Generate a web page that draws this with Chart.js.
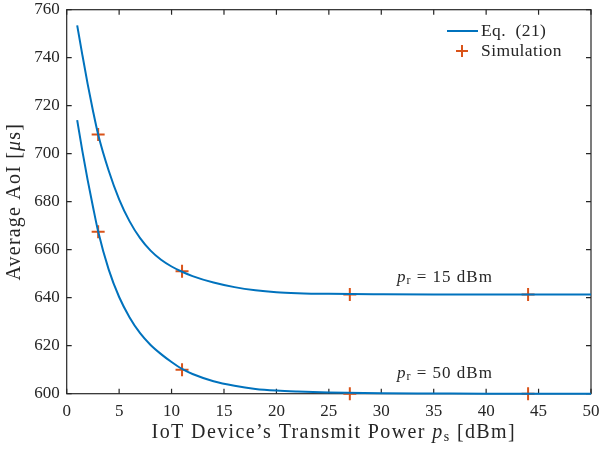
<!DOCTYPE html>
<html>
<head>
<meta charset="utf-8">
<script src="https://cdn.jsdelivr.net/npm/chart.js@4.4.1/dist/chart.umd.min.js"></script>
<style>
  html, body { margin: 0; padding: 0; background: #fff; }
  #wrap { width: 601px; height: 451px; }
</style>
</head>
<body>
<div id="wrap"><canvas id="myChart" width="601" height="451"></canvas></div>
<script>
// transmit power of the IoT device (dBm) where the analytic curve was read
const xEq = [1, 1.5, 2, 2.5, 3, 4, 5, 6, 7, 8, 9, 10, 11, 12, 14, 16, 18, 20, 22, 25, 30, 35, 40, 45, 50]
const eqPr15 = [753.5, 741, 729, 718, 708, 693, 681, 671.8, 664.8, 659.6, 655.8, 653, 650.8, 649, 646.3, 644.4, 643.1, 642.3, 641.9, 641.6, 641.4, 641.3, 641.3, 641.3, 641.3]
const eqPr50 = [714, 701, 689, 678, 667.6, 651.8, 640.3, 631.8, 625.2, 620.3, 616.5, 613.2, 610.3, 608.2, 605.2, 603.3, 602, 601.3, 600.9, 600.5, 600.2, 600.1, 600, 600, 600]

// simulation points
const xSim = [3, 11, 27, 44]
const simPr15 = [708, 651, 641.3, 641.3]
const simPr50 = [667.5, 610, 600, 600]

const xTicks = [0, 5, 10, 15, 20, 25, 30, 35, 40, 45, 50]
const yTicks = [600, 620, 640, 660, 680, 700, 720, 740, 760]

const BLUE = '#0072BD'
const ORANGE = '#D95319'
const INK = '#262626'
const FAMILY = '"Liberation Serif", "DejaVu Serif", serif'

const toPoints = (xs, ys) => xs.map((x, i) => ({ x: x, y: ys[i] }))

// draw a run of text pieces, each with its own font and baseline shift
function richText(ctx, parts, x, y, align, spacing) {
    ctx.letterSpacing = (spacing || 0) + 'px'
    let total = 0
    parts.forEach(p => { ctx.font = p.font; p.w = ctx.measureText(p.t).width; total += p.w })
    let cx = align === 'center' ? x - total / 2 : x
    ctx.textAlign = 'left'
    ctx.textBaseline = 'middle'
    parts.forEach(p => {
        ctx.font = p.font
        ctx.fillText(p.t, cx, y + (p.dy || 0))
        cx += p.w
    })
    ctx.letterSpacing = '0px'
}

const axesPlugin = {
    id: 'matlabAxes',
    beforeDatasetsDraw(chart) {
        const ctx = chart.ctx
        const a = chart.chartArea
        const xs = chart.scales.x
        const ys = chart.scales.y
        ctx.save()
        ctx.strokeStyle = INK
        ctx.lineWidth = 1.2
        ctx.strokeRect(a.left, a.top, a.right - a.left, a.bottom - a.top)
        const L = 5
        ctx.beginPath()
        xTicks.forEach(v => {
            const px = xs.getPixelForValue(v)
            ctx.moveTo(px, a.bottom); ctx.lineTo(px, a.bottom - L)
            ctx.moveTo(px, a.top); ctx.lineTo(px, a.top + L)
        })
        yTicks.forEach(v => {
            const py = ys.getPixelForValue(v)
            ctx.moveTo(a.left, py); ctx.lineTo(a.left + L, py)
            ctx.moveTo(a.right, py); ctx.lineTo(a.right - L, py)
        })
        ctx.stroke()
        ctx.restore()
    },
    afterDraw(chart) {
        const ctx = chart.ctx
        const a = chart.chartArea
        const xs = chart.scales.x
        const ys = chart.scales.y
        const f = (s, st) => (st || '') + ' ' + s + 'px ' + FAMILY
        ctx.save()
        ctx.fillStyle = INK

        // axis titles
        richText(ctx, [
            { t: 'IoT Device\u2019s Transmit Power ', font: f(20) },
            { t: 'p', font: f(20, 'italic') },
            { t: 's', font: f(14), dy: 4 },
            { t: ' [dBm]', font: f(20) },
        ], (a.left + a.right) / 2 + 5, 433, 'center', 1.4)

        ctx.save()
        ctx.translate(15, (a.top + a.bottom) / 2)
        ctx.rotate(-Math.PI / 2)
        richText(ctx, [
            { t: 'Average AoI [', font: f(20) },
            { t: '\u03bc', font: f(20, 'italic') },
            { t: 's]', font: f(20) },
        ], 0, 0, 'center', 1.2)
        ctx.restore()

        // curve annotations
        const notes = [{ x: 31.5, y: 648.2, v: '15' }, { x: 31.5, y: 608.2, v: '50' }]
        notes.forEach(n => {
            richText(ctx, [
                { t: 'p', font: f(17, 'italic') },
                { t: 'r', font: f(12), dy: 3 },
                { t: ' = ' + n.v + ' dBm', font: f(17) },
            ], xs.getPixelForValue(n.x), ys.getPixelForValue(n.y), 'left', 1)
        })

        // legend
        const ds = chart.data.datasets
        ctx.strokeStyle = ds[0].borderColor
        ctx.lineWidth = 2
        ctx.beginPath(); ctx.moveTo(447, 31); ctx.lineTo(478, 31); ctx.stroke()
        ctx.strokeStyle = ds[2].borderColor
        ctx.beginPath()
        ctx.moveTo(456, 51); ctx.lineTo(468, 51)
        ctx.moveTo(462, 45); ctx.lineTo(462, 57)
        ctx.stroke()
        richText(ctx, [{ t: 'Eq.  (21)', font: f(17.5) }], 481, 31, 'left', 0.4)
        richText(ctx, [{ t: ds[2].label, font: f(17.5) }], 481, 51, 'left', 0.4)
        ctx.restore()
    }
}

const curve = (label, pts) => ({
    label: label, data: pts, showLine: true, borderColor: BLUE, backgroundColor: BLUE,
    borderWidth: 2, pointRadius: 0, cubicInterpolationMode: 'monotone', clip: false
})
const marks = (label, pts) => ({
    label: label, data: pts, showLine: false, borderColor: ORANGE, backgroundColor: ORANGE,
    pointStyle: 'cross', pointRadius: 6.5, borderWidth: 2, clip: false
})

new Chart(document.getElementById('myChart').getContext('2d'), {
    type: 'scatter',
    data: {
        datasets: [
            curve('Eq. (21)', toPoints(xEq, eqPr15)),
            curve('Eq. (21) ', toPoints(xEq, eqPr50)),
            marks('Simulation', toPoints(xSim, simPr15)),
            marks('Simulation ', toPoints(xSim, simPr50)),
        ]
    },
    options: {
        responsive: false,
        animation: false,
        layout: { padding: { left: 0, right: 10, top: 9.7, bottom: 0 } },
        plugins: { legend: { display: false }, tooltip: { enabled: false } },
        scales: {
            x: {
                type: 'linear', min: 0, max: 50,
                afterBuildTicks: s => { s.ticks = xTicks.map(v => ({ value: v })) },
                afterFit: s => { s.height = 57.3; s.paddingLeft = 0; s.paddingRight = 0 },
                grid: { display: false, drawTicks: false },
                border: { display: false },
                ticks: { padding: 8, color: INK, maxRotation: 0, font: { family: FAMILY, size: 17 } }
            },
            y: {
                type: 'linear', min: 600, max: 760,
                afterBuildTicks: s => { s.ticks = yTicks.map(v => ({ value: v })) },
                afterFit: s => { s.width = 66.7; s.paddingTop = 0; s.paddingBottom = 0 },
                grid: { display: false, drawTicks: false },
                border: { display: false },
                ticks: { padding: 7, color: INK, font: { family: FAMILY, size: 17 } }
            }
        }
    },
    plugins: [axesPlugin]
})
</script>
</body>
</html>
